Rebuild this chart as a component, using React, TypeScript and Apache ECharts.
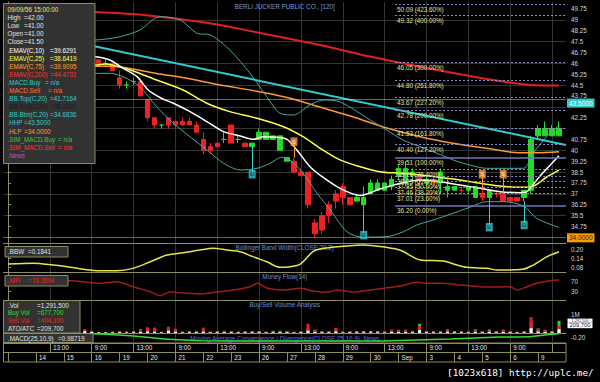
import React, { useEffect, useRef } from 'react';
import * as echarts from 'echarts';

const chartTitle = 'BERLI JUCKER PUBLIC CO., [120]';
const lastStamp = '09/09/56 15:00:00';

// 2-hour bars: [open, close, low, high]
const candles: number[][] = [
  [47.0, 46.75, 46.5, 47.25], [46.75, 47.0, 46.5, 47.25], [47.0, 46.75, 46.5, 47.0], [46.75, 46.5, 46.25, 47.0],
  [46.5, 46.75, 46.25, 47.0], [46.75, 46.5, 46.25, 46.75], [46.5, 46.25, 46.0, 46.75], [46.25, 46.5, 46.0, 46.75],
  [46.5, 46.25, 46.0, 46.5], [46.25, 46.0, 45.75, 46.5], [46.0, 46.25, 45.75, 46.5], [46.25, 46.0, 45.75, 46.25],
  [46.0, 46.25, 45.75, 46.5], [46.25, 46.0, 45.75, 46.25], [46.0, 46.0, 45.75, 46.25], [46.0, 45.5, 45.5, 46.0],
  [45.0, 44.5, 44.25, 45.5], [44.5, 44.5, 44.25, 44.75], [44.75, 44.75, 44.5, 45.0], [44.75, 43.75, 43.75, 44.75],
  [43.5, 42.25, 42.0, 43.5], [42.25, 41.75, 41.5, 42.25], [41.75, 41.75, 41.5, 41.75], [42.25, 41.75, 41.5, 42.25],
  [42.0, 41.75, 41.5, 42.0], [42.0, 41.75, 41.75, 42.25], [42.0, 41.75, 41.75, 42.25], [41.75, 41.25, 41.25, 42.0],
  [40.75, 40.0, 39.75, 41.25], [40.25, 40.0, 39.75, 40.5], [40.5, 40.25, 40.25, 40.5], [40.75, 40.75, 40.5, 41.25],
  [41.75, 40.5, 40.5, 41.75], [40.75, 40.75, 40.5, 41.0], [40.5, 40.25, 40.25, 40.5], [40.25, 40.5, 40.25, 40.5],
  [40.75, 41.25, 40.75, 41.5], [40.75, 41.25, 40.75, 41.25], [40.75, 41.0, 40.75, 41.0], [40.0, 41.0, 40.0, 41.0],
  [39.25, 39.5, 39.25, 39.5], [39.25, 38.5, 38.5, 39.5], [38.5, 38.25, 38.25, 38.75], [38.5, 36.25, 36.0, 38.5],
  [35.0, 34.25, 34.0, 35.25], [35.5, 34.5, 34.25, 35.75], [36.25, 35.5, 35.0, 36.5], [37.0, 36.5, 36.0, 37.25],
  [37.5, 36.75, 36.25, 37.75], [36.75, 36.25, 36.25, 36.75], [36.5, 36.75, 36.5, 37.0], [36.25, 36.75, 36.0, 37.5],
  [37.0, 37.75, 37.0, 38.0], [37.25, 37.75, 37.25, 38.0], [37.25, 37.75, 37.25, 37.75], [37.5, 38.0, 37.25, 38.25],
  [38.25, 38.75, 38.0, 39.0], [37.75, 38.75, 37.5, 39.25], [38.25, 38.5, 37.75, 38.75], [38.25, 38.0, 37.5, 38.5],
  [37.75, 38.0, 37.5, 38.25], [38.0, 37.75, 37.5, 38.25], [37.75, 38.5, 37.0, 38.75], [37.25, 37.5, 36.75, 38.0],
  [37.25, 37.5, 37.25, 37.5], [37.25, 37.25, 37.0, 37.5], [37.25, 37.5, 37.0, 37.5], [36.75, 37.5, 36.75, 37.5],
  [37.0, 36.75, 36.5, 37.25], [36.75, 37.25, 36.5, 37.25], [37.0, 37.0, 36.75, 37.25], [37.0, 36.5, 36.5, 37.0],
  [36.75, 36.5, 36.5, 36.75], [36.75, 36.5, 36.5, 36.75], [36.75, 37.25, 36.5, 37.25], [37.25, 40.75, 37.0, 41.0],
  [41.0, 41.5, 40.75, 41.75], [41.0, 41.5, 41.0, 42.0], [41.0, 41.5, 41.0, 41.75], [41.0, 41.5, 41.0, 42.0],
];

// indicator readings: [bar, value]
const ema10 = [[0, 47.0], [12.5, 46.46], [14.6, 46.23], [16.5, 45.66], [18.5, 45.08], [20.1, 44.16], [22.0, 43.59], [23.7, 43.25], [26.1, 42.67], [28.5, 41.98], [30.9, 41.29], [33.3, 40.99], [35.2, 40.76], [36.6, 40.94], [38.5, 40.9], [40.0, 40.76], [41.4, 40.03], [43.3, 38.87], [44.7, 38.3], [47.6, 37.38], [50.5, 36.89], [53.3, 37.34], [56.2, 37.72], [59.1, 37.96], [61.9, 37.84], [64.8, 37.61], [67.7, 37.38], [70.5, 37.15], [73.4, 37.08], [74.4, 37.15], [75.8, 37.96], [77.3, 38.76], [79, 39.6291]];
const ema25 = [[0, 46.6], [12.5, 45.89], [13.9, 45.96], [17.5, 45.54], [21.3, 44.85], [25.1, 44.16], [28.5, 43.25], [31.8, 42.67], [35.7, 42.21], [39.5, 41.63], [42.3, 40.94], [44.7, 40.16], [47.6, 39.34], [50.5, 38.87], [53.3, 38.53], [56.2, 38.42], [59.1, 38.3], [61.9, 38.14], [64.8, 37.96], [67.7, 37.73], [70.5, 37.54], [73.4, 37.45], [74.8, 37.45], [77.3, 38.18], [79, 38.6419]];
const ema75 = [[0, 46.5], [12.5, 45.82], [16.1, 45.75], [21.3, 45.3], [25.6, 44.97], [30.4, 44.51], [35.1, 44.13], [40.0, 43.65], [44.7, 42.99], [49.5, 42.3], [54.3, 41.54], [59.1, 40.94], [63.8, 40.49], [68.6, 40.14], [73.4, 39.84], [75.8, 39.84], [79, 39.9095]];
const ema200 = [[0, 49.8], [12.5, 49.54], [16.1, 49.45], [20.8, 49.27], [25.6, 48.99], [30.4, 48.65], [35.1, 48.19], [40.0, 47.73], [44.7, 47.27], [51.9, 46.47], [56.6, 46.0], [61.5, 45.54], [66.2, 45.13], [71.0, 44.74], [74.8, 44.51], [79, 44.4731]];
const bbTop = [[0, 47.5], [12.5, 47.61], [16.1, 47.84], [18.9, 48.3], [21.8, 49.22], [24.7, 48.99], [27.1, 48.07], [29.0, 47.96], [31.8, 46.92], [34.7, 45.31], [37.1, 43.7], [39.0, 42.56], [40.9, 42.44], [43.3, 43.13], [45.2, 43.47], [47.6, 43.34], [51.9, 42.1], [54.3, 41.4], [56.6, 40.72], [59.1, 40.25], [61.5, 39.8], [63.8, 39.34], [66.2, 38.99], [68.6, 38.76], [71.0, 38.76], [73.9, 38.76], [75.3, 39.8], [77.2, 40.94], [79, 41.7164]];
const bbBtm = [[0, 45.6], [12.5, 45.31], [14.6, 45.31], [16.5, 45.08], [18.9, 44.39], [21.3, 43.01], [23.7, 41.87], [26.1, 40.94], [28.5, 40.03], [30.9, 39.11], [33.3, 38.65], [35.7, 38.76], [37.6, 39.11], [39.2, 39.52], [40.4, 39.34], [42.3, 38.42], [44.3, 37.04], [46.2, 35.89], [48.6, 34.39], [50.9, 34.01], [54.3, 34.05], [56.7, 34.39], [58.6, 34.85], [61.0, 35.2], [63.8, 35.66], [66.2, 36.07], [68.6, 36.46], [71.0, 36.46], [73.9, 36.16], [75.8, 35.31], [79, 34.6836]];
const bbAvgLast = 38.2;
const hhp = 43.5;
const hlp = 34.0;
const trendStart = 48.49;
const trendEnd = 40.37;

const fibLevels = [50.09, 49.32, 46.05, 44.8, 43.67, 42.78, 41.53, 40.4, 39.51, 38.71, 38.23, 37.85, 37.46, 37.01, 36.2];
const fibPcts = ['423.60%', '400.00%', '300.00%', '261.80%', '227.20%', '200.00%', '161.80%', '127.20%', '100.00%', '76.40%', '61.80%', '50.00%', '38.20%', '23.60%', '0.00%'];
const fibStartBar = 55.5;

const buyBars = [35, 51, 69, 74];
const buyLevels = [38.35, 34.15, 34.7, 34.85];
const sellBars = [41, 68, 71];
const sellLevels = [40.6, 38.35, 38.35];

const bbw = [[0, 0.102], [3.6, 0.107], [6.5, 0.095], [8.5, 0.084], [10.8, 0.067], [13.2, 0.057], [15.6, 0.057], [17.9, 0.073], [20.4, 0.117], [22.8, 0.162], [25.1, 0.177], [27.5, 0.195], [29.4, 0.207], [31.4, 0.195], [33.3, 0.184], [35.1, 0.151], [37.1, 0.117], [39.0, 0.08], [40.4, 0.084], [41.9, 0.102], [43.7, 0.184], [44.7, 0.202], [49.0, 0.224], [50.9, 0.229], [54.3, 0.213], [56.2, 0.195], [59.1, 0.129], [62.4, 0.122], [64.4, 0.095], [65.8, 0.08], [68.7, 0.073], [70.1, 0.062], [73.8, 0.067], [75.3, 0.095], [77.3, 0.151], [79, 0.1841]];
const mfi = [[0, 70], [5, 72], [8.9, 74], [13.2, 63.6], [15.6, 70], [17.9, 50], [20.4, 30], [21.8, 14], [23.2, 28.8], [25.1, 24.8], [27.5, 20.8], [30.0, 28.8], [32.3, 36.8], [34.7, 50], [35.8, 63.6], [37.1, 44.8], [39.4, 36.8], [41.9, 43.6], [43.7, 32.8], [45.7, 27.6], [47.2, 36.8], [49.5, 28.8], [51.9, 36.8], [53.8, 43.6], [56.2, 52.8], [58.6, 67.6], [60.1, 63.6], [61.9, 63.6], [64.8, 56.8], [67.7, 50], [70.5, 48.8], [72.0, 50], [73.0, 36.8], [74.4, 50], [75.8, 63.6], [77.7, 74], [79, 76.3894]];
const macd = [[0, 1.1], [10, 1.05], [13.2, 0.88], [18, 0.29], [23, -0.69], [27.5, -1.1], [34.7, -1.19], [41.9, -1.19], [49, -1.19], [53.3, -1.19], [56.2, -1.04], [63.4, -0.6], [70.5, -0.01], [74.8, 0.08], [77, 0.59], [79, 0.98719]];

// volume in thousands of shares
const buyVol = [100, 90, 110, 95, 100, 120, 90, 100, 110, 95, 100, 150, 120, 40, 40, 80, 100, 80, 100, 120, 150, 140, 70, 330, 160, 80, 100, 120, 140, 80, 100, 120, 100, 80, 100, 110, 110, 80, 130, 130, 120, 70, 90, 250, 150, 100, 100, 230, 80, 90, 110, 110, 110, 110, 80, 180, 180, 180, 120, 500, 100, 100, 100, 200, 110, 100, 80, 200, 90, 200, 100, 150, 90, 70, 110, 620, 250, 180, 110, 677.7];
const sellVol = [60, 55, 70, 60, 65, 70, 55, 60, 70, 60, 65, 220, 120, 20, 20, 50, 80, 50, 80, 230, 320, 300, 60, 350, 240, 50, 80, 110, 300, 50, 80, 110, 80, 50, 80, 70, 70, 50, 100, 100, 110, 60, 90, 520, 200, 80, 80, 290, 50, 90, 70, 70, 70, 70, 50, 170, 170, 170, 110, 400, 80, 80, 80, 200, 70, 80, 50, 150, 90, 150, 80, 200, 90, 60, 70, 880, 220, 170, 70, 404.1];
const atoVol = [20, 20, 25, 20, 20, 25, 20, 20, 25, 20, 20, 100, 55, 30, 30, 30, 40, 30, 40, 60, 80, 70, 30, 125, 70, 30, 40, 45, 70, 30, 40, 45, 40, 30, 40, 40, 40, 30, 45, 45, 45, 30, 40, 130, 60, 40, 40, 85, 30, 40, 40, 40, 40, 40, 30, 60, 60, 60, 45, 160, 40, 40, 40, 70, 40, 40, 30, 60, 40, 60, 40, 60, 40, 30, 40, 265, 80, 60, 40, 209.7];

const priceTicks = [34, 34.75, 35.5, 36.25, 37, 37.75, 38.5, 39.25, 40, 40.75, 41.5, 42.25, 43, 43.75, 44.5, 45.25, 46, 46.75, 47.5, 48.25, 49, 49.75];
const priceGrid = [35.5, 37, 38.5, 40, 41.5, 43, 44.5, 46, 47.5, 49];
const bbwTicks = [0.08, 0.14, 0.2];
const mfiTicks = [30, 70];
const volTicks = [1000];
const macdTicks = [-0.2];
const gridBars = [6, 12, 18, 24, 30, 36, 42, 48, 54, 60, 66, 72, 78];
const sessionBars = [6, 12, 18, 24, 30, 36, 42, 48, 54, 60, 66, 72, 78];
const sessionLabels = ['13:00', '9:00', '13:00', '9:00', '13:00', '9:00', '13:00', '9:00', '13:00', '9:00', '13:00', '9:00', '13:00'];
const dayLabels = ['13', '14', '15', '16', '19', '20', '21', '22', '23', '26', '27', '28', '29', '30', 'Sep', '3', '4', '5', '6', '9'];
const barsPerDay = 4;

const FONT = '"Liberation Sans", Arial, sans-serif';
const KHAKI = '#8e8e5c';
const GRIDC = '#353535';
const UP = '#22dd22';
const DOWN = '#ee2222';
const X_MIN = -0.65;
const X_MAX = 80;
const LEFT = 3.5;
const RIGHT = 34;
const FS = 6.3;

function lastOf(a: number[][]) { return a[a.length - 1][1]; }
function fmtVol(k: number) { return Math.round(k * 1000).toLocaleString('en-US'); }

function buildOption(): any {
  const panels = [
    { top: 2, height: 241 },
    { top: 243, height: 29 },
    { top: 272, height: 28 },
    { top: 300, height: 33 },
    { top: 333, height: 10 },
  ];
  const rows = [{ top: 343, height: 9.5 }, { top: 352.5, height: 9.5 }];
  const grid = [
    ...panels.map((p) => ({ left: LEFT, right: RIGHT, top: p.top, height: p.height })),
    ...rows.map((r) => ({ left: LEFT, right: RIGHT, top: r.top, height: r.height, show: true, borderColor: KHAKI, borderWidth: 1, backgroundColor: 'transparent' })),
  ];

  const last = candles[candles.length - 1];
  const lastClose = last[1];
  // axis labels hidden behind the highlighted value boxes in the reference
  const covered = [hhp - 0.5, lastClose, hlp];

  const panelX = (g: number) => ({
    type: 'value', gridIndex: g, min: X_MIN, max: X_MAX,
    axisLine: { show: true, onZero: false, lineStyle: { color: KHAKI, width: 1 } },
    axisTick: { show: false, customValues: gridBars },
    axisLabel: { show: false },
    splitLine: { show: true, lineStyle: { color: GRIDC, width: 1 } },
  });
  const dayBars = dayLabels.map((_, d) => d * barsPerDay);
  const rowLabel = { show: true, inside: true, margin: 1.2, align: 'left', padding: [0, 0, 0, 3], color: '#e4e4e4', fontSize: FS, lineHeight: 7, fontFamily: FONT };
  const xAxis = [
    ...panels.map((_, g) => panelX(g)),
    {
      type: 'value', gridIndex: 5, min: X_MIN, max: X_MAX, position: 'bottom',
      axisLine: { show: false, onZero: false },
      axisTick: { show: true, inside: true, length: 9.5, customValues: sessionBars, lineStyle: { color: KHAKI } },
      axisLabel: { ...rowLabel, customValues: sessionBars.slice(0, -1), formatter: (v: number) => sessionLabels[sessionBars.indexOf(Math.round(v))] || '' },
      splitLine: { show: false },
    },
    {
      type: 'value', gridIndex: 6, min: X_MIN, max: X_MAX, position: 'bottom',
      axisLine: { show: false, onZero: false },
      axisTick: { show: true, inside: true, length: 9.5, customValues: dayBars, lineStyle: { color: KHAKI } },
      axisLabel: { ...rowLabel, customValues: dayBars.slice(1), formatter: (v: number) => dayLabels[Math.round(v / barsPerDay)] || '' },
      splitLine: { show: false },
    },
  ];

  const rightY = (g: number, min: number, max: number, ticks: number[], labels: number[], fmt: (v: number) => string) => ({
    type: 'value', gridIndex: g, position: 'right', min, max,
    axisLine: { show: true, lineStyle: { color: KHAKI } },
    axisTick: { show: true, length: 3, customValues: ticks, lineStyle: { color: KHAKI } },
    axisLabel: { show: true, customValues: labels, formatter: fmt, color: '#d6d6d6', fontSize: FS, lineHeight: 7, fontFamily: FONT, margin: 5 },
    splitLine: { show: false },
  });
  const yAxis = [
    rightY(0, 33.61, 50.23, priceTicks, priceTicks.filter((v) => !covered.includes(v)), (v) => String(+v.toFixed(2))),
    rightY(1, 0.0487, 0.242, bbwTicks, bbwTicks, (v) => v.toFixed(2)),
    rightY(2, -3.2, 108.8, mfiTicks, mfiTicks, (v) => String(Math.round(v))),
    rightY(3, 0, 1833, volTicks, volTicks, () => '1M'),
    rightY(4, -1.78, 1.18, macdTicks, macdTicks, (v) => v.toFixed(2)),
    { type: 'value', gridIndex: 5, show: false, min: 0, max: 1 },
    { type: 'value', gridIndex: 6, show: false, min: 0, max: 1 },
    {
      type: 'value', gridIndex: 0, position: 'left', min: 33.61, max: 50.23,
      axisLine: { show: false }, axisLabel: { show: false },
      axisTick: { show: false, customValues: priceGrid },
      splitLine: { show: true, lineStyle: { color: GRIDC, width: 1 } },
    },
  ];

  const line = (pts: number[][], color: string, width: number, g = 0, extra: any = {}) => ({
    type: 'line', xAxisIndex: g, yAxisIndex: g, data: pts, showSymbol: false, symbol: 'none',
    smooth: 0.3, silent: true, z: 3, lineStyle: { color, width }, ...extra,
  });

  const fibData = fibLevels.map((lv, k) => {
    const solid = fibPcts[k] === '100.00%' || fibPcts[k] === '0.00%';
    return [
      {
        coord: [fibStartBar, lv],
        lineStyle: solid ? { color: '#7474b8', width: 1.5, type: 'solid' } : { color: '#8c8cd0', width: 1, type: [2, 2] },
        label: { show: true, position: 'insideStartBottom', distance: 2, formatter: `${lv.toFixed(2)} (${fibPcts[k]})`, color: '#e2e29a', fontSize: FS, lineHeight: 6, fontFamily: FONT },
      },
      { coord: [X_MAX, lv] },
    ];
  });

  const boxLabel = (text: string, bg: string, fg: string, dy: number) => ({
    show: true, position: 'end', distance: 1, offset: [0, dy], formatter: text, backgroundColor: bg, color: fg,
    padding: [1, 2, 1, 2], fontSize: 6.5, lineHeight: 7, fontFamily: FONT,
  });

  const series: any[] = [
    line(ema200, '#e02020', 2),
    line(ema75, '#ff9933', 1.5),
    line(ema25, '#ffff4d', 1.5),
    line(bbTop, '#4aa6a6', 1),
    line(bbBtm, '#4aa6a6', 1),
    {
      type: 'candlestick', xAxisIndex: 0, yAxisIndex: 0, z: 2, silent: true, barWidth: 5,
      data: candles.map((c, i) => [i, c[0], c[1], c[2], c[3]]),
      encode: { x: 0, y: [1, 2, 3, 4] },
      itemStyle: { color: UP, color0: DOWN, borderColor: UP, borderColor0: DOWN, borderWidth: 1 },
      markLine: {
        silent: true, symbol: ['none', 'none'], z: 6,
        data: [
          { yAxis: hhp, lineStyle: { color: '#d0d0d0', type: 'dotted', width: 1 }, label: boxLabel(hhp.toFixed(4), '#33cccc', '#ffffff', 3.5) },
          { yAxis: hlp, lineStyle: { color: '#c0c0c0', type: 'dotted', width: 1 }, label: boxLabel(hlp.toFixed(4), '#ff9900', '#222222', 0.5) },
          { yAxis: lastClose, lineStyle: { opacity: 0 }, label: { ...boxLabel(lastClose.toFixed(2), '#c8ffc8', '#111111', 3), padding: [1, 6, 1, 2] } },
        ],
      },
    },
    line([[X_MIN, trendStart], [X_MAX, trendEnd]], '#33cccc', 2, 0, {
      smooth: false,
      markLine: { silent: true, symbol: ['none', 'none'], z: 4, data: fibData },
    }),
    line(ema10, '#ffffff', 1.5),
    {
      type: 'scatter', xAxisIndex: 0, yAxisIndex: 0, z: 7, silent: true,
      data: buyBars.map((b, k) => [b, buyLevels[k]]),
      symbol: 'rect', symbolSize: [7, 8.5], itemStyle: { color: '#33cccc' },
      label: { show: true, position: 'inside', formatter: 'B', color: '#223366', fontSize: 6, fontWeight: 'bold', fontFamily: FONT },
      markLine: {
        silent: true, symbol: ['none', 'none'], z: 6, label: { show: false },
        lineStyle: { color: '#33cccc', width: 1, type: 'solid' },
        data: buyBars.map((b, k) => [{ coord: [b, candles[b][2]] }, { coord: [b, buyLevels[k]] }]),
      },
    },
    {
      type: 'scatter', xAxisIndex: 0, yAxisIndex: 0, z: 7, silent: true,
      data: sellBars.map((b, k) => [b, sellLevels[k]]),
      symbol: 'rect', symbolSize: [7, 8.5], itemStyle: { color: '#ff9933' },
      label: { show: true, position: 'inside', formatter: 'S', color: '#fff2d8', fontSize: 6, fontWeight: 'bold', fontFamily: FONT },
      markLine: {
        silent: true, symbol: ['none', 'none'], z: 6, label: { show: false },
        lineStyle: { color: '#ff9933', width: 1, type: 'solid' },
        data: sellBars.map((b, k) => [{ coord: [b, candles[b][3]] }, { coord: [b, sellLevels[k]] }]),
      },
    },
    line(bbw, '#e6e64a', 1.5, 1),
    line(mfi, '#a01c1c', 1.5, 2),
    ...[
      { d: buyVol, c: '#22dd22' },
      { d: sellVol, c: '#dd2222' },
      { d: atoVol, c: '#ffffff' },
    ].map((s) => ({
      type: 'bar', xAxisIndex: 3, yAxisIndex: 3, stack: 'vol', barWidth: 3, silent: true,
      data: s.d.map((v, i) => [i, v]), itemStyle: { color: s.c },
    })),
    line(macd, '#33dd33', 1.5, 4, { smooth: 0.2 }),
  ];

  const T = (x: number, y: number, text: string, fill: string, opts: any = {}) => ({
    type: 'text', x, y, z: opts.z ?? 101, silent: true,
    style: { text, fill, fontSize: opts.fs ?? FS, lineHeight: opts.lh ?? 7, fontFamily: opts.ff ?? FONT, textAlign: opts.align ?? 'left', textVerticalAlign: 'middle', fontWeight: opts.fw ?? 'normal' },
  });
  const box = (x: number, y: number, w: number, h: number) => ({
    type: 'rect', z: 100, silent: true, shape: { x, y, width: w, height: h },
    style: { fill: '#323232', stroke: KHAKI, lineWidth: 1 },
  });

  const infoLines: [string, string, string, number][] = [
    [lastStamp, '', '#e6e67a', 0],
    ['High', '=' + last[3].toFixed(2), '#e2e2e2', 24],
    ['Low', '=' + last[2].toFixed(2), '#e2e2e2', 24],
    ['Open', '=' + last[0].toFixed(2), '#e2e2e2', 24],
    ['Close', '=' + last[1].toFixed(2), '#e2e2e2', 24],
    ['.EMAV(C,10)', '=' + lastOf(ema10).toFixed(4), '#ffffff', 50],
    ['.EMAV(C,25)', '=' + lastOf(ema25).toFixed(4), '#ffff55', 50],
    ['.EMAV(C,75)', '=' + lastOf(ema75).toFixed(4), '#ffa033', 50],
    ['.EMAV(C,200)', '=' + lastOf(ema200).toFixed(4), '#ff3030', 50],
    ['.MACD.Buy', '= n/a', '#33cccc', 45],
    ['.MACD.Sell', '= n/a', '#ff7733', 48],
    ['.BB.Top(C,20)', '=' + lastOf(bbTop).toFixed(4), '#33cccc', 50],
    ['.BB.Avg(C,20)', '=' + bbAvgLast.toFixed(4), '#1c1c1c', 50],
    ['.BB.Btm(C,20)', '=' + lastOf(bbBtm).toFixed(4), '#33cccc', 50],
    ['.HHP', '=' + hhp.toFixed(4), '#33cccc', 24],
    ['.HLP', '=' + hlp.toFixed(4), '#ff9933', 24],
    ['.SIM_MACD.Buy', '= n/a', '#33cc33', 58],
    ['.SIM_MACD.Sell', '= n/a', '#ff3333', 58],
    ['.News', '', '#cc44cc', 0],
  ];

  const n = buyVol.length - 1;
  const volTotal = buyVol[n] + sellVol[n] + atoVol[n];
  const volLines: [string, string, string][] = [
    ['.Vol', '=' + fmtVol(volTotal), '#e2e2e2'],
    ['Buy Vol', '=' + fmtVol(buyVol[n]), '#33dd33'],
    ['Sell Vol', '=' + fmtVol(sellVol[n]), '#ee2222'],
    ['ATO/ATC', '=' + fmtVol(atoVol[n]), '#e2e2e2'],
  ];

  const cx = LEFT + (600 - LEFT - RIGHT) / 2;
  const graphic: any[] = [
    T(cx, 6.5, chartTitle, '#7a9ad8', { align: 'center', z: 1 }),
    T(cx, 247.5, 'Bollinger Band Width(CLOSE,20,2)', '#6f8fd6', { align: 'center', z: 1 }),
    T(cx, 276.5, 'Money Flow(14)', '#6f8fd6', { align: 'center', z: 1 }),
    T(cx, 304, 'Buy/Sell Volume Analysis', '#6f8fd6', { align: 'center', z: 1 }),
    T(cx, 338.3, 'Moving Average Convergence / Divergence(CLOSE,25,10,9), News', '#6a6ae0', { align: 'center', z: 1 }),
    box(3.5, 3.5, 91.5, 160),
    ...infoLines.flatMap(([lab, val, col, vx], k) => {
      const y = 9.5 + k * 8.1;
      const out: any[] = [T(7.5, y, lab, col)];
      if (val) out.push(T(vx, y, val, col));
      return out;
    }),
    box(5, 246.5, 63, 10.5),
    T(8, 251.8, '.BBW', '#e2e2e2'), T(28, 251.8, '=' + lastOf(bbw).toFixed(4), '#e2e2e2'),
    box(5, 275.5, 63, 10.5),
    T(8, 280.8, '.MFI', '#ee2222'), T(28, 280.8, '=' + lastOf(mfi).toFixed(4), '#ee2222'),
    box(3.5, 300.5, 76.5, 32.5),
    ...volLines.flatMap(([lab, val, col], k) => {
      const y = 305 + k * 7.9;
      return [T(8, y, lab, col), T(37, y, val, col)];
    }),
    box(3.5, 333.5, 89.5, 9),
    T(8, 338.2, '.MACD(25,10,9)', '#e2e2e2'), T(58, 338.2, '=' + lastOf(macd).toFixed(5), '#e2e2e2'),
    { type: 'rect', z: 100, silent: true, shape: { x: 567.5, y: 318.6, width: 25, height: 3.8 }, style: { fill: '#ffffff' } },
    T(580, 320.5, fmtVol(volTotal), '#333333', { align: 'center', fs: 3.8, lh: 3.8 }),
    { type: 'rect', z: 100, silent: true, shape: { x: 567.5, y: 322.4, width: 25, height: 5.8 }, style: { fill: '#ffffff' } },
    T(580, 325.3, fmtVol(atoVol[n]), '#222222', { align: 'center', fs: 5.8, lh: 5.8 }),
    T(447, 372, '[1023x618] http://uplc.me/', '#ffffff', { ff: '"DejaVu Sans Mono", monospace', fs: 9.4, lh: 11 }),
  ];

  return {
    animation: false,
    backgroundColor: '#000000',
    grid, xAxis, yAxis, series, graphic,
  };
}

export default function App() {
  const ref = useRef<HTMLDivElement>(null);
  useEffect(() => {
    const chart = echarts.init(ref.current!, null, { renderer: 'svg' });
    chart.setOption(buildOption());
    return () => chart.dispose();
  }, []);
  return (
    <div
      ref={ref}
      style={{ position: 'fixed', left: 0, top: 0, width: 600, height: 382, background: '#000000' }}
    />
  );
}
